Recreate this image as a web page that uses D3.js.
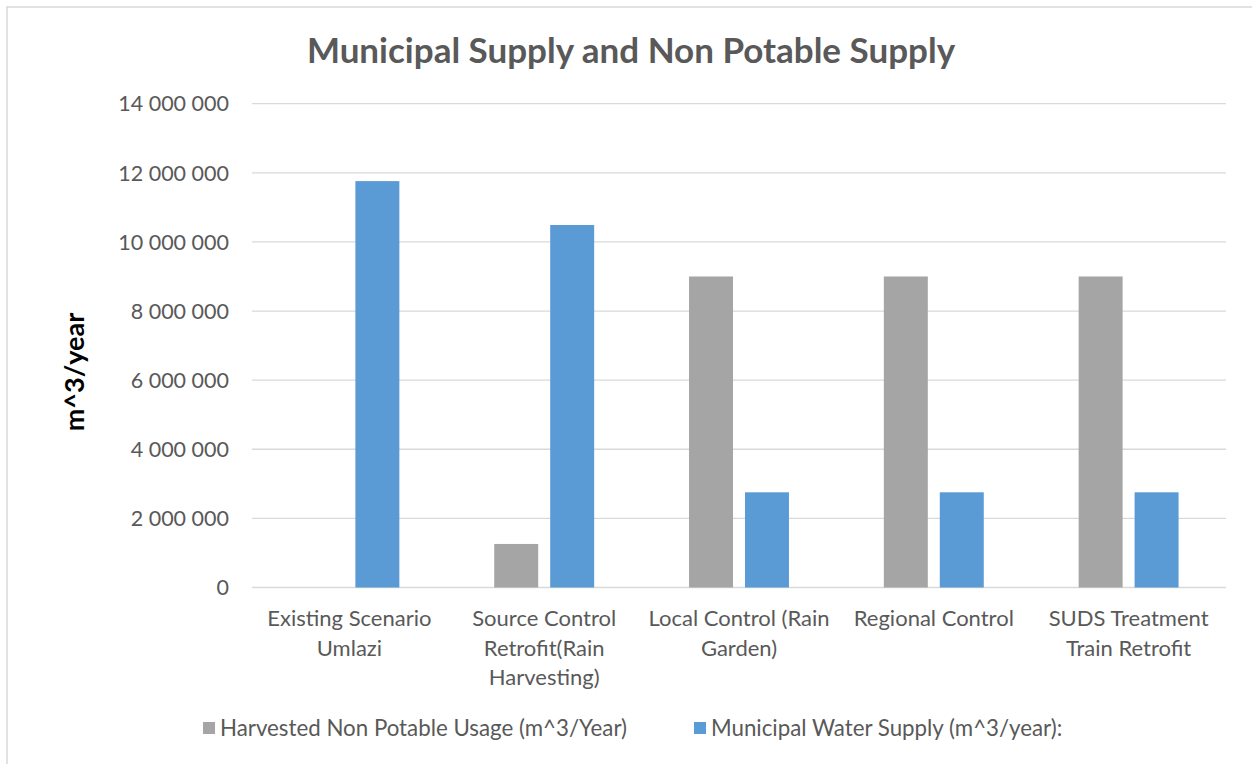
<!DOCTYPE html>
<html>
<head>
<meta charset="utf-8">
<script src="https://cdn.jsdelivr.net/npm/d3@7"></script>
<style>
  body { margin: 0; background: #fff; }
  text { font-family: Lato, "Open Sans", sans-serif; }
</style>
</head>
<body>
<div id="chart-area"></div>
<script>
// chart data
const categories = ["Existing Scenario Umlazi", "Source Control Retrofit(Rain Harvesting)",
  "Local Control (Rain Garden)", "Regional Control", "SUDS Treatment Train Retrofit"];
const categoryLines = [
  ["Existing Scenario", "Umlazi"],
  ["Source Control", "Retrofit(Rain", "Harvesting)"],
  ["Local Control (Rain", "Garden)"],
  ["Regional Control"],
  ["SUDS Treatment", "Train Retrofit"]
];
const seriesNames = ["Harvested Non Potable Usage (m^3/Year)", "Municipal Water Supply (m^3/year):"];
const harvested = [0, 1260000, 9000000, 9000000, 9000000];
const municipal = [11760000, 10490000, 2755000, 2755000, 2755000];
const yTicks = [0, 2000000, 4000000, 6000000, 8000000, 10000000, 12000000, 14000000];

const colors = ["#a5a5a5", "#5b9bd5"];
const W = 1252, H = 764;
const plotLeft = 252, plotRight = 1226, plotTop = 103.7, plotBottom = 587.5;

const svg = d3.select('#chart-area').append('svg')
  .attr('width', W)
  .attr('height', H);

// outer chart border
svg.append('rect')
  .attr('x', 7).attr('y', 7)
  .attr('width', W).attr('height', H)
  .attr('fill', 'none')
  .attr('stroke', '#d9d9d9')
  .attr('stroke-width', 1.5);

const x0 = d3.scaleBand()
  .domain(categories)
  .range([plotLeft, plotRight])
  .paddingInner(0.487)
  .paddingOuter(0.2435);

const x1 = d3.scaleBand()
  .domain(seriesNames)
  .range([0, x0.bandwidth()])
  .paddingInner(0.214);

const y = d3.scaleLinear()
  .domain([0, 14000000])
  .range([plotBottom, plotTop]);

const fmt = v => d3.format(',')(v).replace(/,/g, ' ');

// gridlines
svg.append('g')
  .selectAll('line')
  .data(yTicks)
  .enter().append('line')
    .attr('x1', plotLeft).attr('x2', plotRight)
    .attr('y1', d => y(d)).attr('y2', d => y(d))
    .attr('stroke', '#d9d9d9')
    .attr('stroke-width', 1.3);

// y tick labels
svg.append('g')
  .selectAll('text')
  .data(yTicks)
  .enter().append('text')
    .attr('x', 229)
    .attr('y', d => y(d))
    .attr('dy', '0.36em')
    .attr('text-anchor', 'end')
    .attr('font-size', 21.5)
    .attr('fill', '#595959')
    .text(fmt);

// bars
const rows = categories.map((c, i) => ({ cat: c, vals: [harvested[i], municipal[i]] }));
const groups = svg.append('g')
  .selectAll('g')
  .data(rows)
  .enter().append('g')
    .attr('transform', d => `translate(${x0(d.cat)},0)`);

groups.selectAll('rect')
  .data(d => d.vals.map((v, j) => ({ name: seriesNames[j], v: v, j: j })))
  .enter().append('rect')
    .attr('x', d => x1(d.name))
    .attr('y', d => y(d.v))
    .attr('width', x1.bandwidth())
    .attr('height', d => plotBottom - y(d.v))
    .attr('fill', d => colors[d.j]);

// category labels
const catLabels = svg.append('g')
  .selectAll('text')
  .data(categories)
  .enter().append('text')
    .attr('x', d => x0(d) + x0.bandwidth() / 2)
    .attr('y', 626)
    .attr('text-anchor', 'middle')
    .attr('font-size', 22)
    .attr('fill', '#595959');

catLabels.selectAll('tspan')
  .data((d, i) => categoryLines[i])
  .enter().append('tspan')
    .attr('x', function () { return d3.select(this.parentNode).attr('x'); })
    .attr('dy', (d, i) => i === 0 ? 0 : 29.5)
    .text(d => d);

// title
svg.append('text')
  .attr('x', 631)
  .attr('y', 63)
  .attr('text-anchor', 'middle')
  .attr('font-size', 35)
  .attr('font-weight', 'bold')
  .attr('fill', '#595959')
  .text('Municipal Supply and Non Potable Supply');

// y axis title
svg.append('text')
  .attr('transform', 'translate(84,372) rotate(-90)')
  .attr('text-anchor', 'middle')
  .attr('font-size', 27)
  .attr('font-weight', 'bold')
  .attr('fill', '#000')
  .text('m^3/year');

// legend
const legendX = [203, 694];
const legend = svg.append('g')
  .selectAll('g')
  .data(seriesNames)
  .enter().append('g')
    .attr('transform', (d, i) => `translate(${legendX[i]},728)`);

legend.append('rect')
  .attr('x', 0).attr('y', -6)
  .attr('width', 12).attr('height', 12)
  .attr('fill', (d, i) => colors[i]);

legend.append('text')
  .attr('x', 17)
  .attr('dy', '0.36em')
  .attr('font-size', 22.3)
  .attr('fill', '#595959')
  .text(d => d);
</script>
</body>
</html>
